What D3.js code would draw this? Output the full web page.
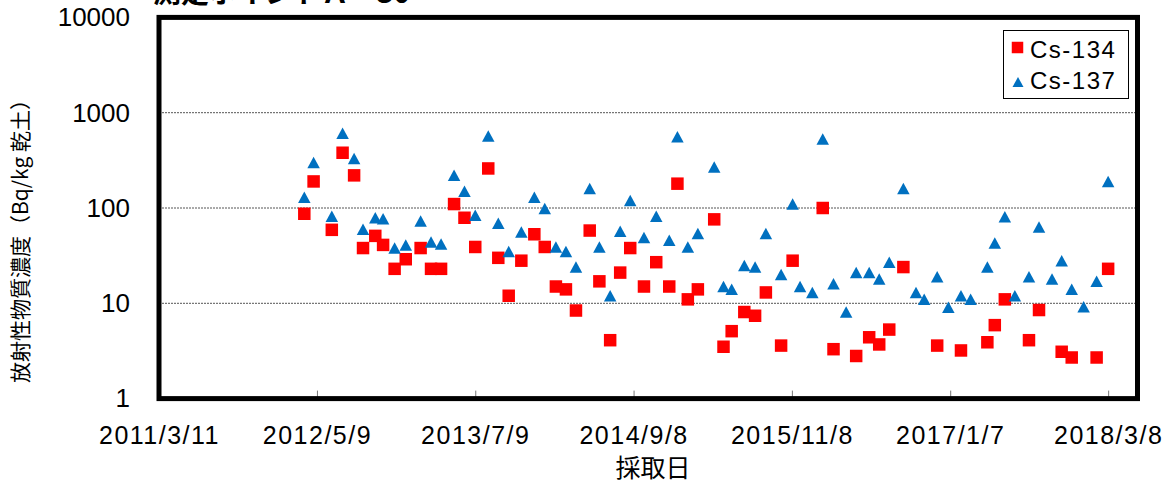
<!DOCTYPE html>
<html>
<head>
<meta charset="utf-8">
<script src="https://cdn.jsdelivr.net/npm/d3@7"></script>
<style>
body { margin: 0; background: #fff; }
</style>
</head>
<body>
<svg width="1172" height="486"></svg>
<script>
// sampling dates (shared by both series)
var dates = ["2012-04-05", "2012-04-30", "2012-06-18", "2012-07-17", "2012-08-17", "2012-09-10", "2012-10-13", "2012-11-03", "2012-12-04", "2013-01-03",
    "2013-02-12", "2013-03-12", "2013-04-08", "2013-05-13", "2013-06-10", "2013-07-09", "2013-08-13", "2013-09-09", "2013-10-07", "2013-11-10",
    "2013-12-15", "2014-01-12", "2014-02-11", "2014-03-10", "2014-04-06", "2014-05-13", "2014-06-08", "2014-07-07", "2014-08-03", "2014-08-30",
    "2014-10-06", "2014-11-08", "2014-12-13", "2015-01-04", "2015-02-01", "2015-02-28", "2015-04-13", "2015-05-08", "2015-05-30", "2015-07-03",
    "2015-08-01", "2015-08-30", "2015-10-10", "2015-11-10", "2015-11-30", "2016-01-02", "2016-01-30", "2016-02-28", "2016-04-02", "2016-04-29",
    "2016-06-03", "2016-06-30", "2016-07-27", "2016-09-03", "2016-10-07", "2016-10-29", "2016-12-03", "2017-01-02", "2017-02-05", "2017-03-03",
    "2017-04-17", "2017-05-07", "2017-06-03", "2017-06-30", "2017-08-07", "2017-09-03", "2017-10-08", "2017-11-03", "2017-11-30", "2018-01-01",
    "2018-02-05", "2018-03-08"];

// Bq/kg, null = not detected
var cs134 = [87, 190, 59, 380, 220, 38, 51, 41, 23, 29,
    38, 23, 23, 110, 79, 39, 260, 30, 12, 28,
    53, 39, 15, 14, 8.4, 58, 17, 4.1, 21, 38,
    15, 27, 15, 180, 11, 14, 76, 3.5, 5.1, 8.1,
    7.4, 13, 3.6, 28, null, null, 100, 3.3, null, 2.8,
    4.4, 3.7, 5.3, 24, null, null, 3.6, null, 3.2, null,
    3.9, 5.9, 11, null, 4.1, 8.5, null, 3.1, 2.7, null,
    2.7, 23];

var cs137 = [130, 300, 82, 610, 330, 60, 79, 77, 38, 41,
    73, 44, 42, 220, 150, 84, 570, 69, 35, 56,
    130, 99, 39, 35, 24, 160, 39, 12, 57, 120,
    49, 82, 46, 560, 39, 54, 270, 15, 14, 25,
    24, 54, 20, 110, 15, 13, 530, 16, 8.1, 21,
    21, 18, 27, 160, 13, 11, 19, 9.1, 12, 11,
    24, 43, 81, 12, 19, 63, 18, 28, 14, 9.2,
    17, 190];

var xTicks = ["2011-03-11", "2012-05-09", "2013-07-09", "2014-09-08", "2015-11-08", "2017-01-07", "2018-03-08"];
var xDomain = ["2011-03-11", "2018-05-26"];
var yTicks = [1, 10, 100, 1000, 10000];

var parse = d3.utcParse("%Y-%m-%d");
var fmt = d3.utcFormat("%Y/%-m/%-d");

var svg = d3.select("svg");

// plot area edges
var plotL = 159, plotR = 1137.5, plotT = 17.4, plotB = 398.6;

var x = d3.scaleUtc()
    .domain(xDomain.map(parse))
    .range([plotL, plotR]);

var y = d3.scaleLog()
    .domain([1, 10000])
    .range([plotB, plotT]);

// title (mostly cut off at the top edge)
svg.append("text")
    .attr("x", 153)
    .attr("y", 3)
    .style("font-family", "'Noto Sans CJK JP'")
    .style("font-size", "28px")
    .style("font-weight", "bold")
    .text("測定ポイントＡ－30");

// gridlines
svg.append("g")
    .selectAll("line")
    .data([10, 100, 1000])
    .enter().append("line")
    .attr("x1", plotL)
    .attr("x2", plotR)
    .attr("y1", function (d) { return y(d); })
    .attr("y2", function (d) { return y(d); })
    .attr("stroke", "#555")
    .attr("stroke-width", 1)
    .attr("stroke-dasharray", "2,1");

// x axis: ticks inside, labels below
var xAxis = d3.axisBottom(x)
    .tickValues(xTicks.map(parse))
    .tickFormat(fmt)
    .tickSizeInner(-8)
    .tickSizeOuter(0)
    .tickPadding(28);

var gx = svg.append("g")
    .attr("transform", "translate(0," + plotB + ")")
    .call(xAxis);
gx.select(".domain").remove();
gx.selectAll(".tick line").attr("stroke", "#777");
gx.selectAll(".tick text")
    .style("font-family", "'Liberation Sans', Arial, sans-serif")
    .style("font-size", "25px")
    .style("letter-spacing", "1.5px")
    .attr("fill", "#000");

// y axis: labels only
var yAxis = d3.axisLeft(y)
    .tickValues(yTicks)
    .tickFormat(d3.format("d"))
    .tickSize(0)
    .tickPadding(29);

var gy = svg.append("g")
    .attr("transform", "translate(" + plotL + ",0)")
    .call(yAxis);
gy.select(".domain").remove();
gy.selectAll(".tick text")
    .style("font-family", "'Liberation Sans', Arial, sans-serif")
    .style("font-size", "26px")
    .attr("fill", "#000");

// plot frame
svg.append("rect")
    .attr("x", plotL)
    .attr("y", plotT)
    .attr("width", plotR - plotL)
    .attr("height", plotB - plotT)
    .attr("fill", "none")
    .attr("stroke", "#000")
    .attr("stroke-width", 5);

// axis titles
svg.append("text")
    .attr("x", 653)
    .attr("y", 477)
    .attr("text-anchor", "middle")
    .style("font-family", "'Noto Sans CJK JP'")
    .style("font-size", "25px")
    .text("採取日");

svg.append("text")
    .attr("transform", "translate(28,236) rotate(-90)")
    .attr("text-anchor", "middle")
    .style("font-family", "'Noto Sans CJK JP'")
    .style("font-size", "21px")
    .text("放射性物質濃度（Bq/kg 乾土）");

function squarePath(s) {
    return "M" + (-s / 2) + "," + (-s / 2) + "h" + s + "v" + s + "h" + (-s) + "Z";
}

function trianglePath(w, h) {
    return "M0," + (-h / 2) + "L" + (w / 2) + "," + (h / 2) + "L" + (-w / 2) + "," + (h / 2) + "Z";
}

var rows134 = [], rows137 = [];
dates.forEach(function (d, i) {
    if (cs134[i] != null) rows134.push({ date: parse(d), value: cs134[i] });
    if (cs137[i] != null) rows137.push({ date: parse(d), value: cs137[i] });
});

svg.append("g")
    .selectAll("path")
    .data(rows134)
    .enter().append("path")
    .attr("d", squarePath(12.5))
    .attr("fill", "#ff0000")
    .attr("transform", function (d) {
        return "translate(" + x(d.date) + "," + y(d.value) + ")";
    });

svg.append("g")
    .selectAll("path")
    .data(rows137)
    .enter().append("path")
    .attr("d", trianglePath(12.5, 11.5))
    .attr("fill", "#0070c0")
    .attr("transform", function (d) {
        return "translate(" + x(d.date) + "," + y(d.value) + ")";
    });

// legend
var legend = svg.append("g");
legend.append("rect")
    .attr("x", 1003.5)
    .attr("y", 30.5)
    .attr("width", 125)
    .attr("height", 68)
    .attr("fill", "#fff")
    .attr("stroke", "#000")
    .attr("stroke-width", 1);

legend.append("path")
    .attr("d", squarePath(11.5))
    .attr("fill", "#ff0000")
    .attr("transform", "translate(1017.5,47.5)");
legend.append("path")
    .attr("d", trianglePath(11, 10))
    .attr("fill", "#0070c0")
    .attr("transform", "translate(1018,82)");

legend.selectAll("text")
    .data(["Cs-134", "Cs-137"])
    .enter().append("text")
    .attr("x", 1030)
    .attr("y", function (d, i) { return 57.5 + i * 31; })
    .style("font-family", "'Liberation Sans', Arial, sans-serif")
    .style("font-size", "24px")
    .style("letter-spacing", "1.5px")
    .text(function (d) { return d; });
</script>
</body>
</html>
